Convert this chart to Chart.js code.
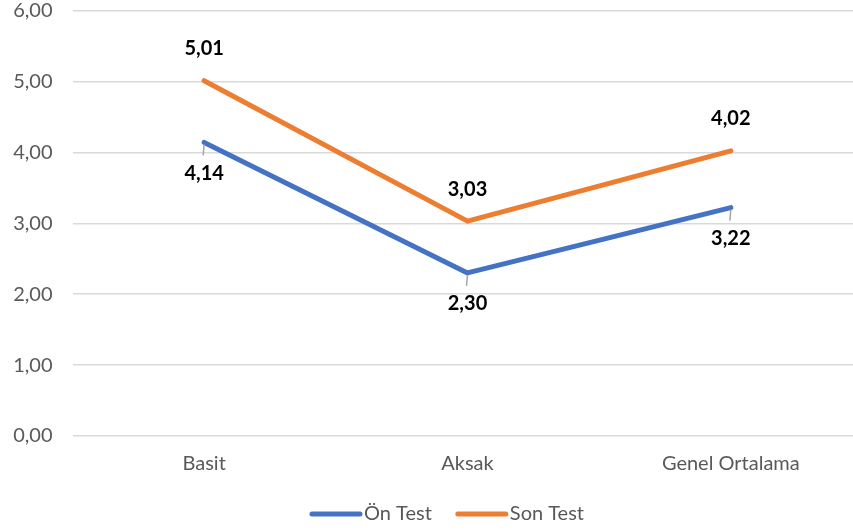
<!DOCTYPE html>
<html>
<head>
<meta charset="utf-8">
<script src="https://cdn.jsdelivr.net/npm/chart.js@4/dist/chart.umd.min.js"></script>
<style>
html,body{margin:0;padding:0;background:#fff;overflow:hidden;width:853px;height:531px;}
#wrap{position:absolute;left:0;top:0;width:866px;height:531px;}
</style>
</head>
<body>
<div id="wrap"><canvas id="c" width="866" height="531"></canvas></div>
<script>
const categories = ["Basit", "Aksak", "Genel Ortalama"];
const onTest = [4.14, 2.30, 3.22];
const sonTest = [5.01, 3.03, 4.02];
const seriesNames = ["Ön Test", "Son Test"];
const yTicks = [0, 1, 2, 3, 4, 5, 6];

const BLUE = "#4472C4", ORANGE = "#ED7D31";
const FONT = "Lato, 'Liberation Sans', sans-serif";
const fmt = v => v.toFixed(2).replace('.', ',');

const labelPlugin = {
  id: 'labels',
  afterDatasetsDraw(chart) {
    const ctx = chart.ctx;
    ctx.save();
    ctx.font = "bold 20px " + FONT;
    ctx.textAlign = 'center';
    ctx.textBaseline = 'middle';
    chart.data.datasets.forEach((ds, di) => {
      const meta = chart.getDatasetMeta(di);
      meta.data.forEach((pt, i) => {
        const v = ds.data[i];
        if (di === 0) {
          ctx.strokeStyle = '#a6a6a6';
          ctx.lineWidth = 1.5;
          ctx.beginPath();
          ctx.moveTo(pt.x, pt.y + 2);
          ctx.lineTo(pt.x - 1, pt.y + 13);
          ctx.stroke();
          ctx.fillStyle = '#000';
          ctx.fillText(fmt(v), pt.x, pt.y + 31);
        } else {
          ctx.fillStyle = '#000';
          ctx.fillText(fmt(v), pt.x, pt.y - 32);
        }
      });
    });
    ctx.restore();
  },
  afterDraw(chart) {
    const ctx = chart.ctx;
    ctx.save();
    ctx.font = "20px " + FONT;
    ctx.textBaseline = 'middle';
    const lineW = 52, gap = 2, sep = 24;
    const items = chart.data.datasets.map(d => ({t: d.label, c: d.borderColor, w: ctx.measureText(d.label).width}));
    const total = items.reduce((s, it) => s + lineW + gap + it.w, 0) + sep * (items.length - 1);
    let x = 447 - total / 2;
    const y = 514;
    items.forEach(it => {
      ctx.strokeStyle = it.c;
      ctx.lineWidth = 5;
      ctx.lineCap = 'round';
      ctx.beginPath();
      ctx.moveTo(x + 2, y);
      ctx.lineTo(x + lineW - 2, y);
      ctx.stroke();
      x += lineW + gap;
      ctx.fillStyle = '#595959';
      ctx.fillText(it.t, x, y);
      x += it.w + sep;
    });
    ctx.restore();
  }
};

new Chart(document.getElementById('c'), {
  type: 'line',
  data: {
    labels: categories,
    datasets: [
      {label: seriesNames[0], data: onTest, borderColor: BLUE, backgroundColor: BLUE, borderWidth: 5, pointRadius: 0, borderCapStyle: 'round', borderJoinStyle: 'round', tension: 0},
      {label: seriesNames[1], data: sonTest, borderColor: ORANGE, backgroundColor: ORANGE, borderWidth: 5, pointRadius: 0, borderCapStyle: 'round', borderJoinStyle: 'round', tension: 0}
    ]
  },
  options: {
    responsive: false,
    animation: false,
    layout: {padding: {top: 10.5, right: 3.5, left: 0, bottom: 0}},
    plugins: {legend: {display: false}, tooltip: {enabled: false}},
    scales: {
      x: {
        offset: true,
        grid: {display: false, drawTicks: false},
        border: {display: false},
        ticks: {color: '#595959', font: {family: FONT, size: 20}, padding: 16},
        afterFit(s) { s.height = 95; s.paddingLeft = 0; s.paddingRight = 0; }
      },
      y: {
        min: 0, max: 6,
        afterBuildTicks(s) { s.ticks = yTicks.map(v => ({value: v})); },
        grid: {color: '#d9d9d9', lineWidth: 1.5, drawTicks: false},
        border: {display: false},
        ticks: {color: '#595959', font: {family: FONT, size: 20}, padding: 20, callback: v => fmt(v)},
        afterFit(s) { s.width = 72.5; s.paddingTop = 0; s.paddingBottom = 0; }
      }
    }
  },
  plugins: [labelPlugin]
});
</script>
</body>
</html>
